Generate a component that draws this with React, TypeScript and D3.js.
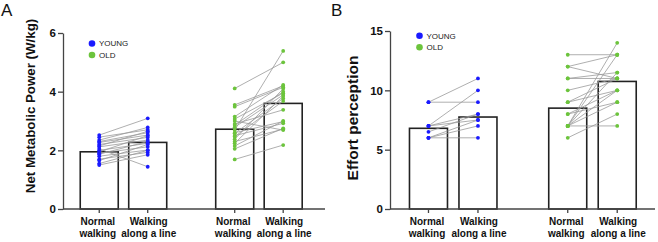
import React, { useRef, useEffect } from 'react';
import * as d3 from 'd3';

const groups = ['YOUNG', 'OLD'];
const conditions = ['Normal walking', 'Walking along a line'];
const conditionLines = [
  ['Normal', 'walking'],
  ['Walking', 'along a line'],
];
const groupColors = { YOUNG: '#1a1aff', OLD: '#6cc43c' };

// Net metabolic power (W/kg), one entry per subject, same order in both conditions
const powerYoungNormal = [2.52, 2.45, 2.35, 2.3, 2.27, 2.2, 2.15, 2.12, 2.05, 2.0, 1.95, 1.9, 1.87, 1.8, 1.7, 1.65, 1.55, 1.5];
const powerYoungLine = [3.09, 2.7, 2.78, 2.6, 2.52, 2.44, 2.65, 2.35, 1.44, 2.24, 2.5, 2.12, 2.3, 2.01, 1.93, 2.2, 2.0, 1.85];
const powerOldNormal = [4.11, 2.69, 3.55, 3.49, 3.15, 3.07, 2.86, 2.79, 2.58, 2.47, 2.38, 2.24, 2.05, 1.69, 2.9, 2.6, 2.5, 3.0, 2.3, 2.15];
const powerOldLine = [5.0, 5.39, 4.2, 4.15, 4.23, 3.95, 4.0, 3.89, 3.77, 3.68, 4.1, 3.85, 2.75, 2.18, 3.38, 2.98, 2.92, 2.69, 2.72, 3.0];
// bar heights: young normal, young line, old normal, old line
const powerMeans = [1.95, 2.27, 2.72, 3.6];
const powerTicks = [0, 2, 4, 6];

// Effort perception (Borg scale)
const effortYoungNormal = [9, 9, 7, 7, 7, 6.5, 6, 6, 6];
const effortYoungLine = [11, 9, 10, 8, 7.5, 8, 7, 7.5, 6];
const effortOldNormal = [13, 12, 12, 11, 11, 10, 9, 8, 8, 7, 7, 7, 7, 7, 7, 6, 9];
const effortOldLine = [13, 13, 11, 11, 11.5, 11, 11, 10, 9, 14, 13, 11.5, 10, 9, 7, 8, 10];
const effortMeans = [6.8, 7.75, 8.5, 10.75];
const effortTicks = [0, 5, 10, 15];

const FONT = 'Liberation Sans, Arial, sans-serif';
const BASE = 209;

const panels = [
  {
    letter: 'A',
    letterX: 1,
    left: 63,
    right: 325,
    top: 33,
    yMax: 6,
    ticks: powerTicks,
    title: 'Net Metabolic Power (W/kg)',
    titleSize: 13.3,
    titleX: 35,
    titleY: 106,
    legendX: 92,
    legendY: 43.5,
    band: { pi: 0.28, po: 0.107, align: 0.404, innerPi: 0.216, innerPo: 0.114 },
    means: powerMeans,
    subjects: {
      YOUNG: [powerYoungNormal, powerYoungLine],
      OLD: [powerOldNormal, powerOldLine],
    },
  },
  {
    letter: 'B',
    letterX: 331,
    left: 390,
    right: 655,
    top: 31,
    yMax: 15,
    ticks: effortTicks,
    title: 'Effort perception',
    titleSize: 15.5,
    titleX: 358,
    titleY: 118,
    legendX: 419.5,
    legendY: 35.7,
    band: { pi: 0.29, po: 0.0965, align: 0.513, innerPi: 0.232, innerPo: 0.115 },
    means: effortMeans,
    subjects: {
      YOUNG: [effortYoungNormal, effortYoungLine],
      OLD: [effortOldNormal, effortOldLine],
    },
  },
];

const drawPanel = (svg, p) => {
  const y = d3.scaleLinear().domain([0, p.yMax]).range([BASE, p.top]);

  const outer = d3
    .scaleBand()
    .domain(groups)
    .range([p.left, p.right])
    .paddingInner(p.band.pi)
    .paddingOuter(p.band.po)
    .align(p.band.align);
  const inner = d3
    .scaleBand()
    .domain(conditions)
    .range([0, outer.bandwidth()])
    .paddingInner(p.band.innerPi)
    .paddingOuter(p.band.innerPo);
  const cx = (g, c) => outer(g) + inner(c) + inner.bandwidth() / 2;

  const g = svg.append('g');

  // mean bars
  groups.forEach((grp, gi) => {
    conditions.forEach((c, ci) => {
      const v = p.means[gi * 2 + ci];
      g.append('rect')
        .attr('x', outer(grp) + inner(c))
        .attr('y', y(v))
        .attr('width', inner.bandwidth())
        .attr('height', y(0) - y(v))
        .attr('fill', '#fff')
        .attr('stroke', '#222')
        .attr('stroke-width', 1.6);
    });
  });

  // paired subject lines, then the points on top
  groups.forEach(grp => {
    const [a, b] = p.subjects[grp];
    a.forEach((v, i) => {
      g.append('line')
        .attr('x1', cx(grp, conditions[0]))
        .attr('y1', y(v))
        .attr('x2', cx(grp, conditions[1]))
        .attr('y2', y(b[i]))
        .attr('stroke', '#9a9a9a')
        .attr('stroke-width', 0.8);
    });
  });
  groups.forEach(grp => {
    p.subjects[grp].forEach((vals, ci) => {
      g.selectAll(null)
        .data(vals)
        .enter()
        .append('circle')
        .attr('cx', cx(grp, conditions[ci]))
        .attr('cy', d => y(d))
        .attr('r', 1.9)
        .attr('fill', groupColors[grp]);
    });
  });

  // y axis
  const yAxis = g
    .append('g')
    .attr('transform', 'translate(' + p.left + ',0)')
    .call(
      d3
        .axisLeft(y)
        .tickValues(p.ticks)
        .tickSize(5)
        .tickSizeOuter(0)
        .tickPadding(2)
        .tickFormat(d3.format('d'))
    );
  yAxis.selectAll('path, line').attr('stroke', '#444').attr('stroke-width', 1.3);
  yAxis
    .selectAll('text')
    .attr('fill', '#111')
    .style('font-family', FONT)
    .style('font-weight', 'bold')
    .style('font-size', '11.5px');

  // x axis
  g.append('line')
    .attr('x1', p.left)
    .attr('x2', p.right)
    .attr('y1', BASE)
    .attr('y2', BASE)
    .attr('stroke', '#444')
    .attr('stroke-width', 1.3);
  groups.forEach(grp => {
    conditions.forEach((c, ci) => {
      const x = cx(grp, c);
      g.append('line')
        .attr('x1', x)
        .attr('x2', x)
        .attr('y1', BASE)
        .attr('y2', BASE + 4)
        .attr('stroke', '#444')
        .attr('stroke-width', 1.3);
      const t = g
        .append('text')
        .attr('text-anchor', 'middle')
        .attr('fill', '#111')
        .style('font-family', FONT)
        .style('font-weight', 'bold')
        .style('font-size', '10px');
      conditionLines[ci].forEach((line, li) => {
        t.append('tspan')
          .attr('x', x + (ci === 0 ? -1.5 : 1))
          .attr('y', 225 + li * 11.7)
          .text(line);
      });
    });
  });

  // axis title
  g.append('text')
    .attr('transform', 'translate(' + p.titleX + ',' + p.titleY + ') rotate(-90)')
    .attr('text-anchor', 'middle')
    .attr('fill', '#111')
    .style('font-family', FONT)
    .style('font-weight', 'bold')
    .style('font-size', p.titleSize + 'px')
    .text(p.title);

  // legend
  groups.forEach((grp, i) => {
    const ly = p.legendY + i * 11.5;
    g.append('circle')
      .attr('cx', p.legendX)
      .attr('cy', ly)
      .attr('r', 3.3)
      .attr('fill', groupColors[grp]);
    g.append('text')
      .attr('x', p.legendX + 7)
      .attr('y', ly)
      .attr('dy', '0.35em')
      .attr('fill', '#222')
      .style('font-family', FONT)
      .style('font-size', '8px')
      .text(grp);
  });

  // panel letter
  g.append('text')
    .attr('x', p.letterX)
    .attr('y', 16)
    .attr('fill', '#111')
    .style('font-family', FONT)
    .style('font-size', '17px')
    .text(p.letter);
};

const App = () => {
  const ref = useRef(null);
  const width = 658;
  const height = 242;

  useEffect(() => {
    if (!ref.current) return;
    const svg = d3.select(ref.current);
    svg.selectAll('*').remove();
    panels.forEach(p => drawPanel(svg, p));
  }, []);

  return (
    <svg
      ref={ref}
      width={width}
      height={height}
      style={{ position: 'absolute', left: 0, top: 0, background: '#fff' }}
    />
  );
};

export default App;
